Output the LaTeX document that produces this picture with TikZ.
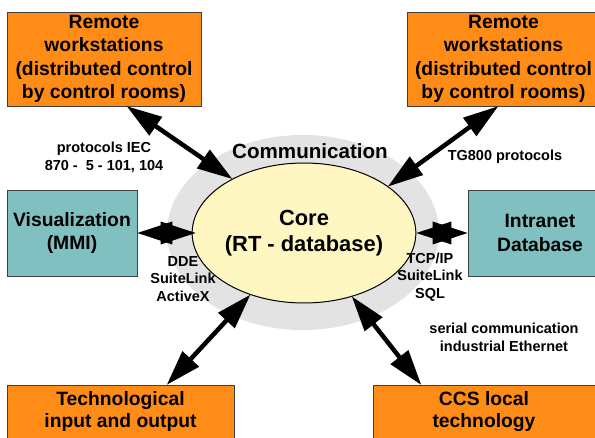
\documentclass[tikz,border=0pt]{standalone}
\usepackage{fontspec}
\setmainfont{Liberation Sans}
\usetikzlibrary{calc,shapes.geometric}
\definecolor{boxorange}{RGB}{255,140,22}
\definecolor{boxteal}{RGB}{128,192,192}
\definecolor{corefill}{RGB}{255,247,194}
\definecolor{commgray}{RGB}{227,227,227}
\newcommand\boxfnt{\fontsize{19.3}{23.3}\selectfont\bfseries}
\newcommand\corefnt{\fontsize{21.9}{26}\selectfont\bfseries}
\newcommand\commfnt{\fontsize{20.6}{24}\selectfont\bfseries}
\newcommand\lblfnt{\fontsize{14.5}{17.5}\selectfont\bfseries}
\tikzset{
  box/.style={draw=black!75, line width=0.8pt, inner sep=0pt, align=center, font=\boxfnt},
  obox/.style={box, fill=boxorange},
  tbox/.style={box, fill=boxteal},
  lbl/.style={align=center, font=\lblfnt, inner sep=0pt},
  shaft/.style={line width=4.5pt, shorten <=30pt, shorten >=30pt},
  head/.style={fill=black}
}
% double-headed thick arrow between two named coordinates
\newcommand\dblarr[2]{%
  \draw[shaft] (#1) -- (#2);
  \fill[head] (#1) -- ($(#1)!35pt!(#2)!11.5pt!90:(#1)$) -- ($(#1)!35pt!(#2)!11.5pt!-90:(#1)$) -- cycle;
  \fill[head] (#2) -- ($(#2)!35pt!(#1)!11.5pt!90:(#2)$) -- ($(#2)!35pt!(#1)!11.5pt!-90:(#2)$) -- cycle;
}
\begin{document}
\begin{tikzpicture}[x=1pt,y=-1pt]
\path[use as bounding box, clip] (0,0) rectangle (595,438);
\fill[white] (0,0) rectangle (595,438);
% communication ellipse
\node[ellipse, fill=commgray, minimum width=272pt, minimum height=195pt, inner sep=0pt] (comm) at (303,232.5) {};
\node[font=\commfnt, inner sep=0pt] (commlbl) at (310,151) {Communication};
% core
\node[ellipse, draw=black, line width=1pt, fill=corefill, minimum width=180pt, minimum height=140pt, inner sep=0pt, align=center, font=\corefnt] (core) at (304,233) {Core\\(RT - database)};
% boxes
\node[obox, minimum width=194pt, minimum height=94pt] (tl) at (104,59) {Remote\\workstations\\(distributed control\\by control rooms)};
\node[obox, minimum width=193pt, minimum height=94pt] (tr) at (503.5,59) {Remote\\workstations\\(distributed control\\by control rooms)};
\node[tbox, minimum width=130pt, minimum height=86pt] (vis) at (72,233) {Visualization\\(MMI)};
\node[tbox, minimum width=144pt, minimum height=86pt] (intra) at (540,233) {Intranet\\Database};
\node[obox, minimum width=227pt, minimum height=54pt, font=\fontsize{19.3}{22}\selectfont\bfseries] (bl) at (120.5,412) {Technological\\input and output};
\node[obox, minimum width=222pt, minimum height=54pt, font=\fontsize{19.3}{22}\selectfont\bfseries] (br) at (484,412) {CCS local\\technology};
% labels
\node[lbl] (iec) at (104,157.5) {protocols IEC\\870 - \ 5 - 101, 104};
\node[lbl] (tg) at (505,157) {TG800 protocols};
\node[lbl] (dde) at (183,279) {DDE\\SuiteLink\\ActiveX};
\node[lbl] (tcp) at (430,277) {TCP/IP\\SuiteLink\\SQL};
\node[lbl, font=\fontsize{14.5}{18}\selectfont\bfseries] (ser) at (504,337) {serial communication\\industrial Ethernet};
% arrow end points
\coordinate (a1s) at ([xshift=23pt]tl.south);
\coordinate (a1e) at (core.143.8);
\coordinate (a2s) at ([xshift=-5.5pt]tr.south);
\coordinate (a2e) at (core.29);
\coordinate (a3s) at (vis.east);
\coordinate (a3e) at ([xshift=4pt]core.west);
\coordinate (a4s) at (core.east);
\coordinate (a4e) at (intra.west);
\coordinate (a5s) at ([xshift=46.5pt]bl.north);
\coordinate (a5e) at (core.229.6);
\coordinate (a6s) at (core.307);
\coordinate (a6e) at ([xshift=-63pt]br.north);
% arrows
\dblarr{a1s}{a1e}
\dblarr{a2s}{a2e}
\dblarr{a3s}{a3e}
\dblarr{a4s}{a4e}
\dblarr{a5s}{a5e}
\dblarr{a6s}{a6e}
\end{tikzpicture}
\end{document}
